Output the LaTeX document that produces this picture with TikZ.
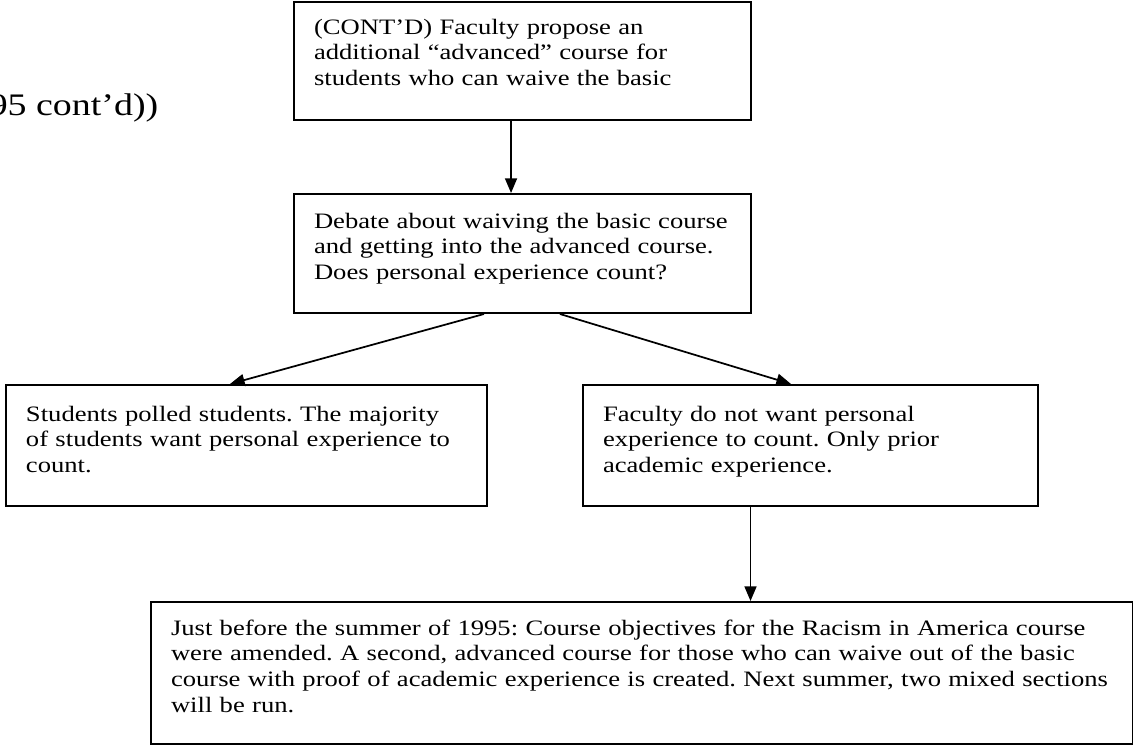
\documentclass[tikz,border=0pt]{standalone}
\usepackage{fontspec}
\setmainfont{Liberation Serif}[FakeStretch=1.21]
\usepackage{tikz}
\usetikzlibrary{arrows.meta}
\frenchspacing
\tikzstyle{arrow} = [-{Triangle[length=11pt,width=9pt]}, line width=1.3pt]
\tikzstyle{block} = [draw, line width=1.5pt, anchor=north west, align=left, inner sep=0pt, execute at begin node={\leftskip=15pt}, font=\fontsize{16.5pt}{19.3pt}\selectfont]

\begin{document}
\begin{tikzpicture}[x=0.75pt, y=-0.75pt]
		\useasboundingbox (0,0) rectangle (1133,744);
		\node (heading) [anchor=base east, font=\fontsize{23.5pt}{28pt}\selectfont] at (163,115) {95 cont’d))};
		\node (cont) [block, text width=342.75pt, text height=24pt, text depth=64.5pt] at (293,1) {(CONT’D) Faculty propose an\\additional “advanced” course for\\students who can waive the basic};
		\node (debate) [block, text width=342.75pt, text height=25.5pt, text depth=63.75pt] at (293,193) {Debate about waiving the basic course\\and getting into the advanced course.\\Does personal experience count?};
		\node (students) [block, text width=360.75pt, text height=27pt, text depth=63.75pt] at (5,384) {Students polled students. The majority\\of students want personal experience to\\count.};
		\node (faculty) [block, text width=341.25pt, text height=27pt, text depth=63.75pt] at (582,384) {Faculty do not want personal\\experience to count. Only prior\\academic experience.};
		\node (summer) [block, text width=736.5pt, text height=24.75pt, text depth=81.75pt] at (150,601) {Just before the summer of 1995: Course objectives for the Racism in America course\\were amended. A second, advanced course for those who can waive out of the basic\\course with proof of academic experience is created. Next summer, two mixed sections\\will be run.};

		\draw [arrow] ([xshift=-8.6pt]cont.south) -- ([xshift=-8.6pt]debate.north);
		\draw [arrow] ([xshift=-28.9pt]debate.south) -- ([xshift=-12.4pt]students.north);
		\draw [arrow] ([xshift=28.1pt]debate.south) -- ([xshift=-14.6pt]faculty.north);
		\draw [arrow] ([xshift=-45pt]faculty.south) -- ([xshift=-45pt]faculty.south |- summer.north);
	\end{tikzpicture}
\end{document}
